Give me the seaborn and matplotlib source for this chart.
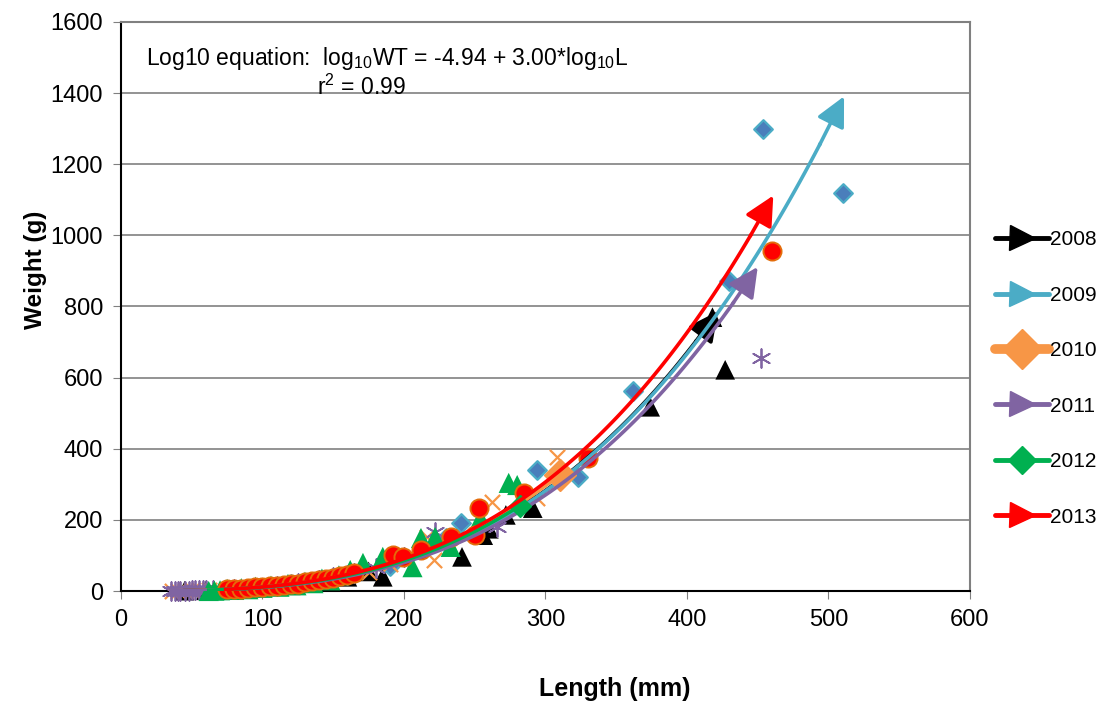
import numpy as np
import pandas as pd
import seaborn as sns
import matplotlib.pyplot as plt
from matplotlib.lines import Line2D
from matplotlib.legend_handler import HandlerLine2D

# ---- data ----
years = ["2008", "2009", "2010", "2011", "2012", "2013"]
colors = ["#000000", "#4BACC6", "#F79646", "#8064A2", "#00B050", "#FF0000"]

len_2008 = [45, 60, 80, 100, 120, 140, 160, 175, 185, 241, 256, 260, 272, 291, 374, 418, 427]
wt_2008 = [1, 2, 5, 10, 16, 25, 40, 55, 40, 96, 157, 175, 214, 233, 518, 770, 622]

len_2009 = [120, 140, 160, 190, 230, 240, 294, 323, 362, 430, 454, 510]
wt_2009 = [20, 30, 46, 70, 150, 190, 340, 321, 562, 872, 1300, 1119]

len_2010 = [36, 40, 45, 50, 55, 62, 70, 85, 100, 115, 130, 145, 160, 175, 190,
            216, 221, 262, 294, 308]
wt_2010 = [0.5, 1, 1, 2, 2, 3, 4, 7, 11, 15, 24, 31, 45, 54, 75,
           152, 87, 250, 262, 377]

len_2011 = [35, 38, 40, 42, 45, 48, 50, 52, 55, 58, 60, 65, 80, 95, 110, 125, 140,
            150, 165, 180, 200, 222, 266, 452]
wt_2011 = [0.5, 0.5, 1, 1, 1, 1, 2, 2, 2, 2, 3, 3, 6, 9, 15, 22, 30,
           40, 52, 65, 95, 165, 180, 655]

len_2012 = [62, 66, 70, 75, 80, 85, 90, 95, 100, 106, 112, 118, 124, 130, 136, 142,
            148, 154, 162, 171, 185, 206, 212, 222, 233, 254, 274, 280]
wt_2012 = [0, 1, 2, 6, 3, 8, 5, 12, 9, 15, 12, 20, 16, 26, 22, 35,
           30, 44, 59, 79, 96, 67, 149, 152, 124, 205, 304, 298]

len_2013 = [75, 80, 85, 90, 95, 100, 105, 110, 115, 120, 125, 130, 135, 140, 145,
            150, 155, 160, 165, 192, 199, 212, 233, 250, 253, 285, 330, 460]
wt_2013 = [5, 6, 7, 8, 10, 11, 13, 15, 17, 19, 21, 24, 27, 30, 33,
           37, 41, 45, 50, 101, 96, 115, 152, 157, 233, 275, 374, 955]

# power-curve trend lines, log10 W = intercept + slope * log10 L
fit_intercept = [-4.98, -4.982, -4.96, -5.00, -4.97, -4.945]
fit_slope = [3.0, 3.0, 3.0, 3.0, 3.0, 3.0]
fit_start = [45, 100, 35, 35, 62, 74]
fit_end = [422, 511, 310, 450, 282, 461]

# ---- styling ----
plt.rcParams["font.family"] = ["Liberation Sans", "DejaVu Sans"]
plt.rcParams["mathtext.default"] = "regular"

fig = plt.figure(figsize=(11.04, 7.02), dpi=100)
ax = fig.add_axes([0.1096, 0.1581, 0.7690, 0.8106])

lens = [len_2008, len_2009, len_2010, len_2011, len_2012, len_2013]
wts = [wt_2008, wt_2009, wt_2010, wt_2011, wt_2012, wt_2013]
frames = []
for y, l, w in zip(years, lens, wts):
    frames.append(pd.DataFrame({"Length": l, "Weight": w, "Year": y}))
df = pd.concat(frames, ignore_index=True)

marker_kw = {
    "2008": dict(marker="^", s=200, color="#000000", edgecolor="none"),
    "2009": dict(marker="D", s=90, color="#4A7EBB", edgecolor="#4BACC6", linewidth=1.6),
    "2010": dict(marker="x", s=120, color="#F79646", linewidth=1.6),
    "2011": dict(marker=(6, 2, 0), s=180, color="#8064A2", linewidth=1.3),
    "2012": dict(marker="^", s=210, color="#00B050", edgecolor="none"),
    "2013": dict(marker="o", s=170, color="#FF0000", edgecolor="#E46C0A", linewidth=1.4),
}

for y in years:
    sub = df[df["Year"] == y]
    sns.scatterplot(data=sub, x="Length", y="Weight", ax=ax, legend=False,
                    zorder=3, clip_on=False, **marker_kw[y])

# trend curves with arrow / diamond ends
for i, y in enumerate(years):
    L = np.linspace(fit_start[i], fit_end[i], 120)
    W = 10 ** fit_intercept[i] * L ** fit_slope[i]
    z = 4 + i * 0.1
    if y in ("2010", "2012"):
        sns.lineplot(x=L, y=W, ax=ax, color=colors[i], lw=2.6, sort=False,
                     estimator=None, zorder=z)
        ms = 16 if y == "2010" else 11
        ax.plot(L[-1], W[-1], marker="D", ms=ms, color=colors[i], zorder=z)
    else:
        sns.lineplot(x=L[:-5], y=W[:-5], ax=ax, color=colors[i], lw=2.6, sort=False,
                     estimator=None, zorder=z)
        ax.annotate("", xy=(L[-1], W[-1]), xytext=(L[-6], W[-6]),
                    arrowprops=dict(arrowstyle="-|>,head_length=0.9,head_width=0.45",
                                    color=colors[i], lw=2.6, mutation_scale=20,
                                    shrinkA=0, shrinkB=0),
                    zorder=z)

ax.set_xlim(0, 600)
ax.set_ylim(0, 1600)
ax.set_xticks(np.arange(0, 601, 100))
ax.set_yticks(np.arange(0, 1601, 200))
ax.tick_params(axis="both", labelsize=17, direction="out", length=6,
               color="#808080", pad=7)
ax.yaxis.grid(True, color="#808080", lw=1.2)
ax.set_axisbelow(True)
ax.spines["left"].set_color("black")
ax.spines["bottom"].set_color("black")
ax.spines["top"].set_color("#808080")
ax.spines["right"].set_color("#808080")
for s in ax.spines.values():
    s.set_linewidth(1.5)

ax.set_xlabel("Length (mm)", fontsize=18, fontweight="bold")
ax.set_ylabel("Weight (g)", fontsize=17.5, fontweight="bold")
ax.xaxis.set_label_coords(0.582, -0.151)
ax.yaxis.set_label_coords(-0.087, 0.564)

ax.text(0.029, 0.935, "Log10 equation:  log$_{10}$WT = -4.94 + 3.00*log$_{10}$L",
        transform=ax.transAxes, fontsize=16.5, va="center")
ax.text(0.231, 0.886, "r$^{2}$ = 0.99", transform=ax.transAxes, fontsize=16.5, va="center")


class EndMarkerHandler(HandlerLine2D):
    def get_xdata(self, legend, xdescent, ydescent, width, height, fontsize):
        xdata = np.array([-xdescent, -xdescent + width])
        return xdata, np.array([-xdescent + width - 10])


handles = []
for i, y in enumerate(years):
    mk = "D" if y in ("2010", "2012") else ">"
    ms = {"2010": 20, "2012": 14}.get(y, 18)
    lw = 7 if y == "2010" else 3.5
    handles.append(Line2D([0], [0], color=colors[i], lw=lw, marker=mk, ms=ms,
                          solid_capstyle="round"))

leg = ax.legend(handles, years, loc="upper left", bbox_to_anchor=(1.01, 0.663),
                frameon=False, fontsize=15, handlelength=2.6, handletextpad=0.05,
                labelspacing=1.75, numpoints=1, borderpad=0.3,
                handler_map={Line2D: EndMarkerHandler()})

fig.savefig("out.png", dpi=100)
